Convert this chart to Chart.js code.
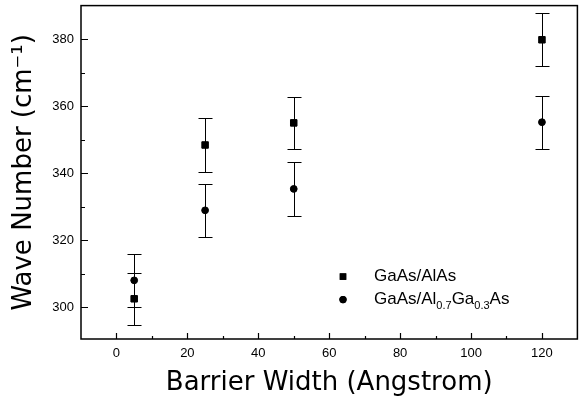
<!DOCTYPE html>
<html>
<head>
<meta charset="utf-8">
<script src="https://cdn.jsdelivr.net/npm/chart.js@4.4.1/dist/chart.umd.min.js"></script>
<style>
  html, body { margin: 0; padding: 0; background: #fff; }
  canvas { display: block; }
</style>
</head>
<body>
<canvas id="chartWaveNumber" width="583" height="400"></canvas>
<script>
'use strict';

/* ── DATA ─────────────────────────────────────────────────────── */
var barrierWidth  = [5, 25, 50, 120];                 // Angstrom
var gaasAlas      = [302.5, 348.4, 355.0, 379.8];     // cm-1
var gaasAlasErr   = [7.7, 8.0, 7.7, 7.9];
var gaasAlgaas    = [308.0, 328.9, 335.3, 355.2];     // cm-1
var gaasAlgaasErr = [8.0, 8.0, 8.0, 7.9];

/* legend text pieces: [text, isSubscript] */
var labelAlas   = [['GaAs/AlAs', false]];
var labelAlgaas = [['GaAs/Al', false], ['0.7', true], ['Ga', false], ['0.3', true], ['As', false]];

var xTitle = 'Barrier Width (Angstrom)';
var yTitle = 'Wave Number (cm\u207B\u00B9)';

/* ── HELPERS ──────────────────────────────────────────────────── */
function toPoints(xs, ys) {
  return xs.map(function(x, i) { return { x: x, y: ys[i] }; });
}

function plainText(pieces) {
  return pieces.map(function(p) { return p[0]; }).join('');
}

/* fixed axis box, no extra label padding so the frame lands where it should */
function fixBox(s, size) {
  if (s.isHorizontal()) s.height = size; else s.width = size;
  s.paddingTop = 0; s.paddingBottom = 0;
  s.paddingLeft = 0; s.paddingRight = 0;
}

/* ── PLUGINS ──────────────────────────────────────────────────── */
var errorBars = {
  id: 'errorBars',
  beforeDatasetsDraw: function(chart) {
    var ctx = chart.ctx, xs = chart.scales.x, ys = chart.scales.y;
    ctx.save();
    ctx.strokeStyle = '#000';
    ctx.lineWidth = 1;
    chart.data.datasets.forEach(function(ds) {
      ds.data.forEach(function(pt, i) {
        var e  = ds.errors[i];
        var px = Math.round(xs.getPixelForValue(pt.x)) + 0.5;
        var y1 = Math.round(ys.getPixelForValue(pt.y + e)) + 0.5;
        var y2 = Math.round(ys.getPixelForValue(pt.y - e)) + 0.5;
        ctx.beginPath();
        ctx.moveTo(px, y1); ctx.lineTo(px, y2);
        ctx.moveTo(px - 7, y1); ctx.lineTo(px + 7, y1);
        ctx.moveTo(px - 7, y2); ctx.lineTo(px + 7, y2);
        ctx.stroke();
      });
    });
    ctx.restore();
  }
};

var axisFrame = {
  id: 'axisFrame',
  afterDraw: function(chart) {
    var ctx = chart.ctx, a = chart.chartArea;
    var xs = chart.scales.x, ys = chart.scales.y;
    ctx.save();
    ctx.strokeStyle = '#000';
    ctx.lineWidth = 1.2;
    ctx.beginPath();
    xs.ticks.forEach(function(t) {
      if (t.value <= xs.min || t.value >= xs.max || t.value % 10 !== 0) return;
      var px = Math.round(xs.getPixelForValue(t.value)) + 0.5;
      var len = (t.value % 20 === 0) ? 6 : 3;
      ctx.moveTo(px, a.bottom); ctx.lineTo(px, a.bottom - len);
    });
    ys.ticks.forEach(function(t) {
      if (t.value <= ys.min || t.value >= ys.max || t.value % 10 !== 0) return;
      var py = Math.round(ys.getPixelForValue(t.value)) + 0.5;
      var len = (t.value % 20 === 0) ? 7 : 4;
      ctx.moveTo(a.left, py); ctx.lineTo(a.left + len, py);
    });
    ctx.stroke();
    ctx.lineWidth = 1.5;
    ctx.strokeRect(a.left, a.top, a.right - a.left, a.bottom - a.top);
    ctx.restore();
  }
};

/* legend with subscripts, drawn inside the plot area */
var subLegend = {
  id: 'subLegend',
  afterDraw: function(chart) {
    var ctx = chart.ctx, a = chart.chartArea;
    var mx = a.left + 262, tx = a.left + 293;
    var rows = [
      { y: a.top + 271, style: 'rect',   pieces: labelAlas },
      { y: a.top + 294, style: 'circle', pieces: labelAlgaas }
    ];
    ctx.save();
    ctx.fillStyle = '#000';
    ctx.textBaseline = 'middle';
    ctx.textAlign = 'left';
    rows.forEach(function(r) {
      Chart.helpers.drawPoint(ctx, { pointStyle: r.style, radius: r.style === 'rect' ? 4.6 : 3.6, borderWidth: 0 }, mx, r.y);
      ctx.fill();
      var x = tx;
      r.pieces.forEach(function(p) {
        ctx.font = p[1] ? '11px "Liberation Sans"' : '17px "Liberation Sans"';
        ctx.fillText(p[0], x, p[1] ? r.y + 6 : r.y);
        x += ctx.measureText(p[0]).width;
      });
    });
    ctx.restore();
  }
};

/* ── CHART ────────────────────────────────────────────────────── */
var tickFont  = { family: 'Liberation Sans', size: 13 };
var titleFont = { family: 'DejaVu Sans', size: 26 };

new Chart(document.getElementById('chartWaveNumber'), {
  type: 'scatter',
  data: {
    datasets: [
      {
        label: plainText(labelAlas),
        data: toPoints(barrierWidth, gaasAlas),
        errors: gaasAlasErr,
        pointStyle: 'rect',
        pointRadius: 4.6,
        backgroundColor: '#000',
        borderColor: '#000',
        borderWidth: 1
      },
      {
        label: plainText(labelAlgaas),
        data: toPoints(barrierWidth, gaasAlgaas),
        errors: gaasAlgaasErr,
        pointStyle: 'circle',
        pointRadius: 3.4,
        backgroundColor: '#000',
        borderColor: '#000',
        borderWidth: 1
      }
    ]
  },
  options: {
    responsive: false,
    animation: false,
    layout: { padding: { top: 5, right: 2, left: 0, bottom: 0 } },
    plugins: {
      legend: { display: false },
      tooltip: { enabled: false }
    },
    scales: {
      x: {
        type: 'linear',
        min: -10, max: 130,
        grid: { display: false, drawTicks: false },
        border: { display: false },
        ticks: {
          stepSize: 10, padding: 7, autoSkip: false, maxRotation: 0,
          color: '#000', font: tickFont,
          callback: function(v) { return v % 20 === 0 ? String(v) : ''; }
        },
        title: { display: true, text: xTitle, color: '#000', font: titleFont, padding: { top: 0, bottom: 1 } },
        afterFit: function(s) { fixBox(s, 61); }
      },
      y: {
        type: 'linear',
        min: 290.5, max: 390,
        grid: { display: false, drawTicks: false },
        border: { display: false },
        ticks: {
          stepSize: 10, padding: 7, autoSkip: false,
          color: '#000', font: tickFont,
          callback: function(v) { return v % 20 === 0 ? String(v) : ''; }
        },
        title: { display: true, text: yTitle, color: '#000', font: titleFont, padding: { top: 9, bottom: 0 } },
        afterFit: function(s) { fixBox(s, 81); }
      }
    }
  },
  plugins: [errorBars, axisFrame, subLegend]
});
</script>
</body>
</html>
